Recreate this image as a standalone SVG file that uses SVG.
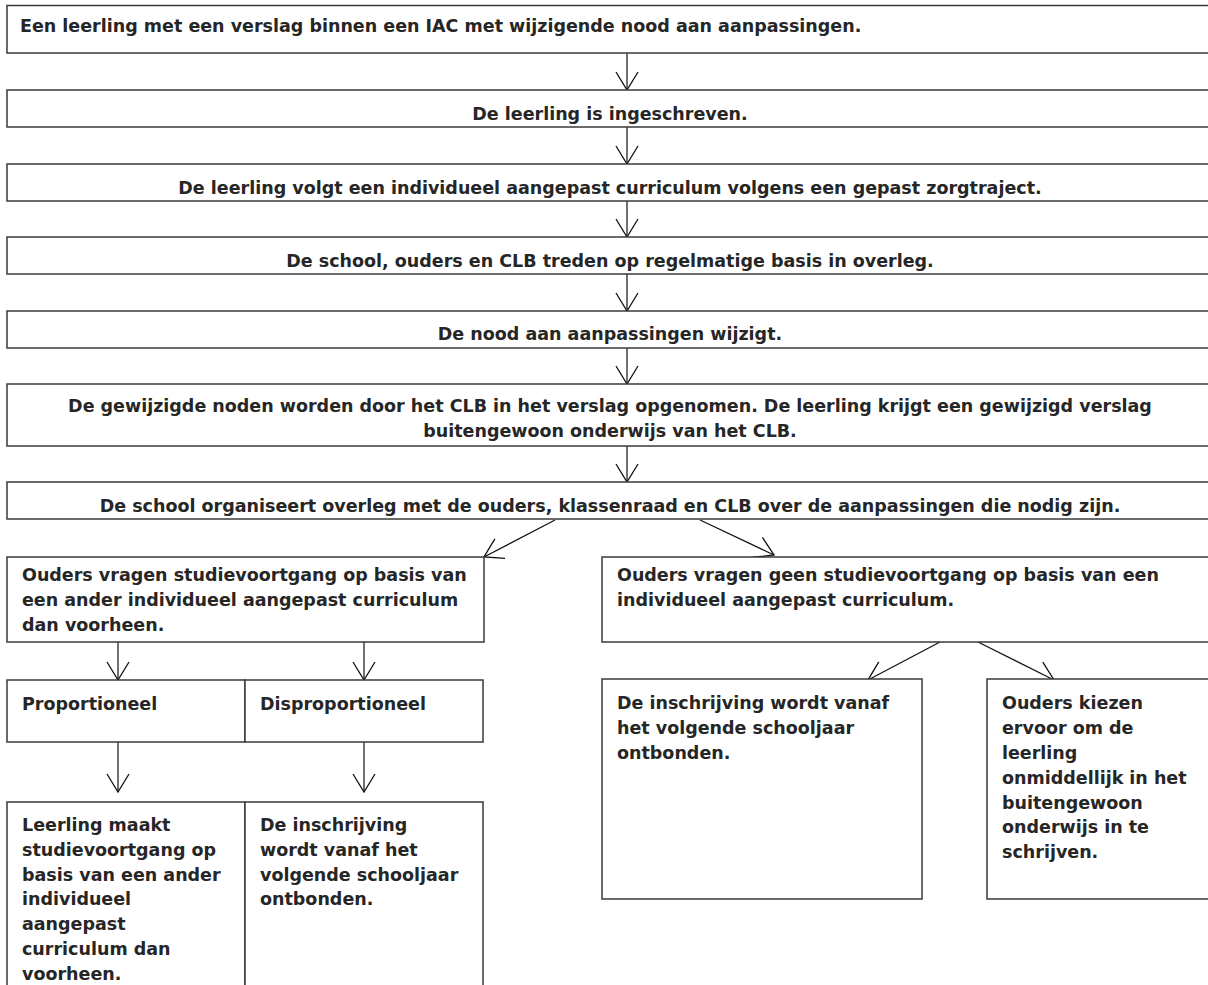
<svg xmlns="http://www.w3.org/2000/svg" width="1208" height="985" viewBox="0 0 1208 985">
<style>
.box{fill:#fff;stroke:#3a3a3a;stroke-width:1.5}
.t{font-family:"DejaVu Sans","Verdana",sans-serif;font-weight:bold;font-size:17.5px;fill:#262626}
.c{text-anchor:middle}
.ar{fill:none;stroke:#111;stroke-width:1.2}
</style>
<defs>
<marker id="ah" markerUnits="userSpaceOnUse" viewBox="-20 -13 22 26" refX="0" refY="0" markerWidth="22" markerHeight="26" orient="auto">
<path d="M-18,-11 L0,0 L-18,11" fill="none" stroke="#111" stroke-width="1.3"/>
</marker>
</defs>
<rect width="1208" height="985" fill="#fff"/>
<g id="connectors">
<line class="ar" x1="627" y1="53" x2="627" y2="90" marker-end="url(#ah)"/>
<line class="ar" x1="627" y1="127" x2="627" y2="164" marker-end="url(#ah)"/>
<line class="ar" x1="627" y1="201" x2="627" y2="237" marker-end="url(#ah)"/>
<line class="ar" x1="627" y1="274" x2="627" y2="311" marker-end="url(#ah)"/>
<line class="ar" x1="627" y1="348" x2="627" y2="384" marker-end="url(#ah)"/>
<line class="ar" x1="627" y1="446" x2="627" y2="482" marker-end="url(#ah)"/>
<line class="ar" x1="555" y1="520" x2="484" y2="557" marker-end="url(#ah)"/>
<line class="ar" x1="700" y1="520" x2="774" y2="555" marker-end="url(#ah)"/>
<line class="ar" x1="118" y1="642" x2="118" y2="680" marker-end="url(#ah)"/>
<line class="ar" x1="364" y1="642" x2="364" y2="680" marker-end="url(#ah)"/>
<line class="ar" x1="118" y1="742" x2="118" y2="792" marker-end="url(#ah)"/>
<line class="ar" x1="364" y1="742" x2="364" y2="792" marker-end="url(#ah)"/>
<line class="ar" x1="940" y1="642" x2="868" y2="680" marker-end="url(#ah)"/>
<line class="ar" x1="978" y1="642" x2="1054" y2="680" marker-end="url(#ah)"/>
</g>
<g id="n1"><rect class="box" x="7" y="5.5" width="1206" height="47.5"/>
<text class="t" x="20" y="32">Een leerling met een verslag binnen een IAC met wijzigende nood aan aanpassingen.</text></g>
<g id="n2"><rect class="box" x="7" y="90" width="1206" height="37"/>
<text class="t c" x="610" y="120">De leerling is ingeschreven.</text></g>
<g id="n3"><rect class="box" x="7" y="164" width="1206" height="37"/>
<text class="t c" x="610" y="194">De leerling volgt een individueel aangepast curriculum volgens een gepast zorgtraject.</text></g>
<g id="n4"><rect class="box" x="7" y="237" width="1206" height="37"/>
<text class="t c" x="610" y="267">De school, ouders en CLB treden op regelmatige basis in overleg.</text></g>
<g id="n5"><rect class="box" x="7" y="311" width="1206" height="37"/>
<text class="t c" x="610" y="340">De nood aan aanpassingen wijzigt.</text></g>
<g id="n6"><rect class="box" x="7" y="384" width="1206" height="62"/>
<text class="t c" x="610" y="412">De gewijzigde noden worden door het CLB in het verslag opgenomen. De leerling krijgt een gewijzigd verslag</text>
<text class="t c" x="610" y="437">buitengewoon onderwijs van het CLB.</text></g>
<g id="n7"><rect class="box" x="7" y="482" width="1206" height="37"/>
<text class="t c" x="610" y="512">De school organiseert overleg met de ouders, klassenraad en CLB over de aanpassingen die nodig zijn.</text></g>
<g id="n8"><rect class="box" x="7" y="557" width="477" height="85"/>
<text class="t" x="22" y="581">Ouders vragen studievoortgang op basis van</text>
<text class="t" x="22" y="606">een ander individueel aangepast curriculum</text>
<text class="t" x="22" y="631">dan voorheen.</text></g>
<g id="n9"><rect class="box" x="602" y="557" width="620" height="85"/>
<text class="t" x="617" y="581">Ouders vragen geen studievoortgang op basis van een</text>
<text class="t" x="617" y="606">individueel aangepast curriculum.</text></g>
<g id="n10"><rect class="box" x="7" y="680" width="238" height="62"/>
<text class="t" x="22" y="710">Proportioneel</text></g>
<g id="n11"><rect class="box" x="245" y="680" width="238" height="62"/>
<text class="t" x="260" y="710">Disproportioneel</text></g>
<g id="n12"><rect class="box" x="7" y="802" width="238" height="200"/>
<text class="t" x="22" y="831">Leerling maakt</text>
<text class="t" x="22" y="856">studievoortgang op</text>
<text class="t" x="22" y="881">basis van een ander</text>
<text class="t" x="22" y="905">individueel</text>
<text class="t" x="22" y="930">aangepast</text>
<text class="t" x="22" y="955">curriculum dan</text>
<text class="t" x="22" y="980">voorheen.</text></g>
<g id="n13"><rect class="box" x="245" y="802" width="238" height="200"/>
<text class="t" x="260" y="831">De inschrijving</text>
<text class="t" x="260" y="856">wordt vanaf het</text>
<text class="t" x="260" y="881">volgende schooljaar</text>
<text class="t" x="260" y="905">ontbonden.</text></g>
<g id="n14"><rect class="box" x="602" y="679" width="320" height="220"/>
<text class="t" x="617" y="709">De inschrijving wordt vanaf</text>
<text class="t" x="617" y="734">het volgende schooljaar</text>
<text class="t" x="617" y="759">ontbonden.</text></g>
<g id="n15"><rect class="box" x="987" y="679" width="240" height="220"/>
<text class="t" x="1002" y="709">Ouders kiezen</text>
<text class="t" x="1002" y="734">ervoor om de</text>
<text class="t" x="1002" y="759">leerling</text>
<text class="t" x="1002" y="784">onmiddellijk in het</text>
<text class="t" x="1002" y="809">buitengewoon</text>
<text class="t" x="1002" y="833">onderwijs in te</text>
<text class="t" x="1002" y="858">schrijven.</text></g>
</svg>
